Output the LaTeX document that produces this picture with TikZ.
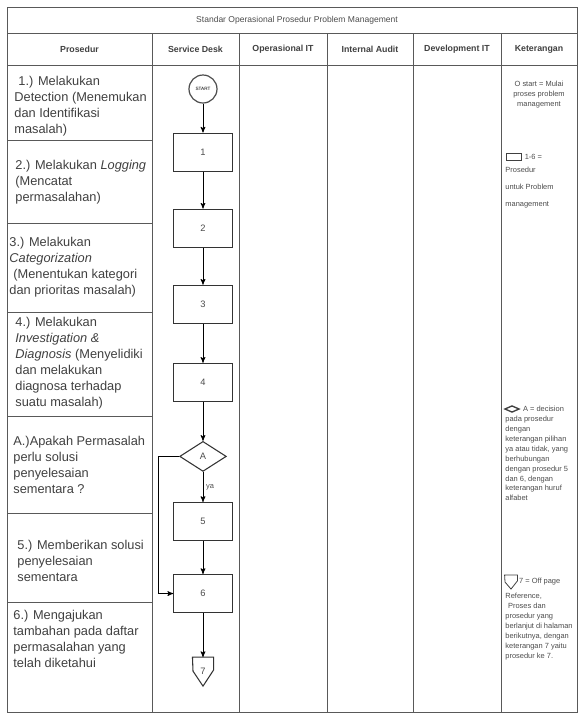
\documentclass[tikz,border=0pt]{standalone}
\usepackage{fontspec}
\setmainfont{Liberation Sans}
\usepackage{tikz}
\usetikzlibrary{arrows,positioning,shapes.geometric}

\begin{document}
\begin{tikzpicture}[x=0.75pt,y=-0.75pt,->,>=stealth',auto,semithick,
      garis/.style={-,draw=black!65,thin},
      proses/.style={draw=black!80,thick,minimum width=44pt,minimum height=28.5pt,inner sep=0pt,font=\fontsize{7}{8}\selectfont,text=black!70},
      langkah/.style={anchor=west,align=left,inner sep=0pt,font=\fontsize{9.6}{12}\selectfont,text=black!75},
      kepala/.style={inner sep=0pt,font=\fontsize{6.6}{7}\selectfont\bfseries,text=black!75},
      ket/.style={inner sep=0pt,font=\fontsize{5.6}{7.4}\selectfont,text=black!70},
      ikon/.style={draw=black!75,inner sep=0pt}]
     \useasboundingbox (0,0) rectangle (583,715);
     % tabel
     \draw[garis] (7,7) rectangle (577,712);
     \draw[garis] (7,33) -- (577,33) (7,65) -- (577,65);
     \foreach \x in {152,239,327,413,501} \draw[garis] (\x,33) -- (\x,712);
     \foreach \y in {140,223,312,416,513,602} \draw[garis] (7,\y) -- (152,\y);
     \node[ket, font=\fontsize{6.4}{7}\selectfont] (judul) at (297,20) {Standar Operasional Prosedur Problem Management};
     \node[kepala] (hprosedur) at (79.5,49) {Prosedur};
     \node[kepala] (hservice) at (195.5,49) {Service Desk};
     \node[kepala] (hoperasi) at (283,49) {Operasional IT};
     \node[kepala] (haudit) at (370,49) {Internal Audit};
     \node[kepala] (hdevel) at (457,49) {Development IT};
     \node[kepala] (hket) at (539,49) {Keterangan};
     % prosedur
     \node[langkah] (p1) at (14,106) {\hspace*{3pt}1.) Melakukan\\Detection (Menemukan\\dan Identifikasi\\masalah)};
     \node[langkah] (p2) at (15,182) {2.) Melakukan \textit{Logging}\\(Mencatat\\permasalahan)};
     \node[langkah] (p3) at (9,267) {3.) Melakukan\\\textit{Categorization}\\\hspace*{3pt}(Menentukan kategori\\dan prioritas masalah)};
     \node[langkah] (p4) at (15,363) {4.) Melakukan\\\textit{Investigation \&}\\\textit{Diagnosis} (Menyelidiki\\dan melakukan\\diagnosa terhadap\\suatu masalah)};
     \node[langkah] (pA) at (13,465) {A.)Apakah Permasalah\\perlu solusi\\penyelesaian\\sementara ?};
     \node[langkah] (p5) at (17,561) {5.) Memberikan solusi\\penyelesaian\\sementara};
     \node[langkah] (p6) at (13,639) {6.) Mengajukan\\tambahan pada daftar\\permasalahan yang\\telah diketahui};
     % alur service desk
     \node[circle, draw=black!70, line width=0.9pt, minimum size=21pt, inner sep=0pt, font=\fontsize{3.5}{4}\selectfont] (start) at (203,89) {START};
     \node[proses, below=21.75pt of start] (b1) {1};
     \node[proses, below=27.75pt of b1] (b2) {2};
     \node[proses, below=27.75pt of b2] (b3) {3};
     \node[proses, below=29.25pt of b3] (b4) {4};
     \node[proses, diamond, minimum width=35pt, minimum height=22.5pt, below=29.25pt of b4] (dA) {A};
     \node[proses, below=22.5pt of dA] (b5) {5};
     \node[proses, below=24.75pt of b5] (b6) {6};
     \node[proses, draw=none, minimum width=15pt, minimum height=21pt, below=33pt of b6] (off7) {7};
     \draw[-, thick, draw=black!80] (off7.north west) -- (off7.north east) -- ++(0,13) -- (off7.south) -- ++(-10,-15) -- cycle;
     \draw (start) edge (b1) (b1) edge (b2) (b2) edge (b3) (b3) edge (b4) (b4) edge (dA);
     \draw (dA) edge node[ket, right=2pt]{ya} (b5);
     \draw (b5) edge (b6) (b6) edge (off7);
     \draw (dA.west) -- ++(-21,0) |- (b6.west);
     % keterangan
     \node[ket, anchor=north, align=center] (k0) at (539,81) {O start = Mulai\\proses problem\\management};
     \node[ikon, minimum width=11pt, minimum height=5pt] (i1) at (514,157) {};
     \node[ket, right=2pt of i1] (k1) {1-6 =};
     \node[ket, anchor=north west, align=left, font=\fontsize{5.6}{12.6}\selectfont] (k1b) at (505,167) {Prosedur\\untuk Problem\\management};
     \node[ikon, diamond, aspect=2.5, minimum width=11pt, minimum height=5pt, line width=1pt] (i2) at (512,409) {};
     \node[ket, right=2pt of i2] (k2) {A = decision};
     \node[ket, anchor=north west, align=left] (k2b) at (505,416) {pada prosedur\\dengan\\keterangan pilihan\\ya atau tidak, yang\\berhubungan\\dengan prosedur 5\\dan 6, dengan\\keterangan huruf\\alfabet};
     \node[ikon, draw=none, minimum width=9pt, minimum height=10pt] (i3) at (511,582) {};
     \draw[-, draw=black!75] (i3.north west) -- (i3.north east) -- ++(0,6) -- (i3.south) -- ++(-6,-7) -- cycle;
     \node[ket, right=1pt of i3] (k3) {7 = Off page};
     \node[ket, anchor=north west, align=left] (k3b) at (505,593) {Reference,\\\hspace*{2pt}Proses dan\\prosedur yang\\berlanjut di halaman\\berikutnya, dengan\\keterangan 7 yaitu\\prosedur ke 7.};
    \end{tikzpicture}
\end{document}
